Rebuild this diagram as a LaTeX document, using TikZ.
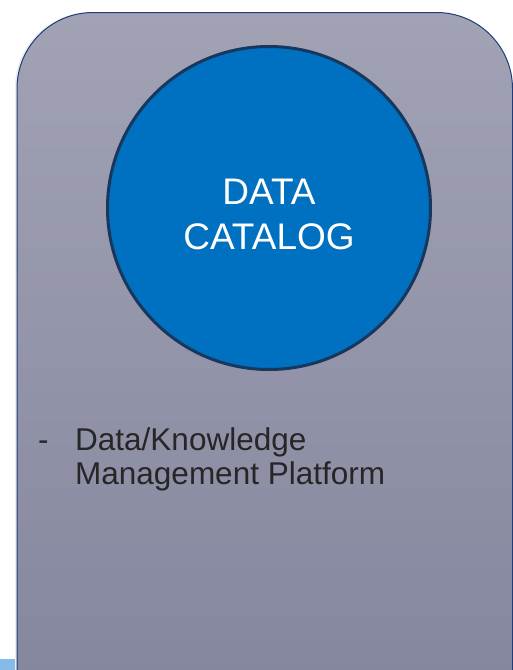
\documentclass[tikz,border=0pt]{standalone}
\usepackage{fontspec}
\setmainfont{Liberation Sans}
\usepackage{tikz}
\usetikzlibrary{positioning}
\definecolor{boxtop}{RGB}{161,162,180}
\definecolor{boxbottom}{RGB}{124,126,152}
\definecolor{boxline}{HTML}{1F3C78}
\definecolor{catblue}{HTML}{0070C0}
\definecolor{catline}{HTML}{17375E}
\definecolor{stripblue}{HTML}{85BBE8}

\begin{document}
\begin{tikzpicture}[x=1pt, y=-1pt,
    catalog/.style={circle, fill=catblue, draw=catline, line width=3pt,
      minimum size=323pt, inner sep=0pt},
    catalogtext/.style={text=white, align=center, inner sep=0pt,
      font=\fontsize{37}{45}\selectfont},
    bullettext/.style={anchor=base west, align=left, inner sep=0pt,
      text=black!85, font=\fontsize{31.5}{34}\selectfont}]
  \useasboundingbox (0,0) rectangle (513,670);
  \clip (0,0) rectangle (513,670);

  % Strip behind the panel
  \fill[stripblue] (0,659) rectangle (40,670);

  % Shadow of the panel
  \fill[black!7, rounded corners=75pt]
    (15,900) -- (15,12.5) -- (510,12.5) -- (510,900) -- cycle;

  % Panel
  \shade[top color=boxtop, bottom color=boxbottom, rounded corners=76pt]
    (17,900) -- (17,12.5) -- (512.5,12.5) -- (512.5,900) -- cycle;
  \draw[boxline, line width=1pt, rounded corners=76pt]
    (17,900) -- (17,12.5) -- (512.5,12.5) -- (512.5,900);

  % Catalog circle
  \node[catalog] (catalog) at (269,208) {};
  \node[catalogtext] (catalogtext) at ([yshift=-6pt]catalog.center)
    {DATA\\CATALOG};

  % Bullet
  \node[bullettext] (dash) at (38,450) {-};
  \node[bullettext] (platform) at (75,484)
    {Data/Knowledge\\Management Platform};
\end{tikzpicture}
\end{document}
